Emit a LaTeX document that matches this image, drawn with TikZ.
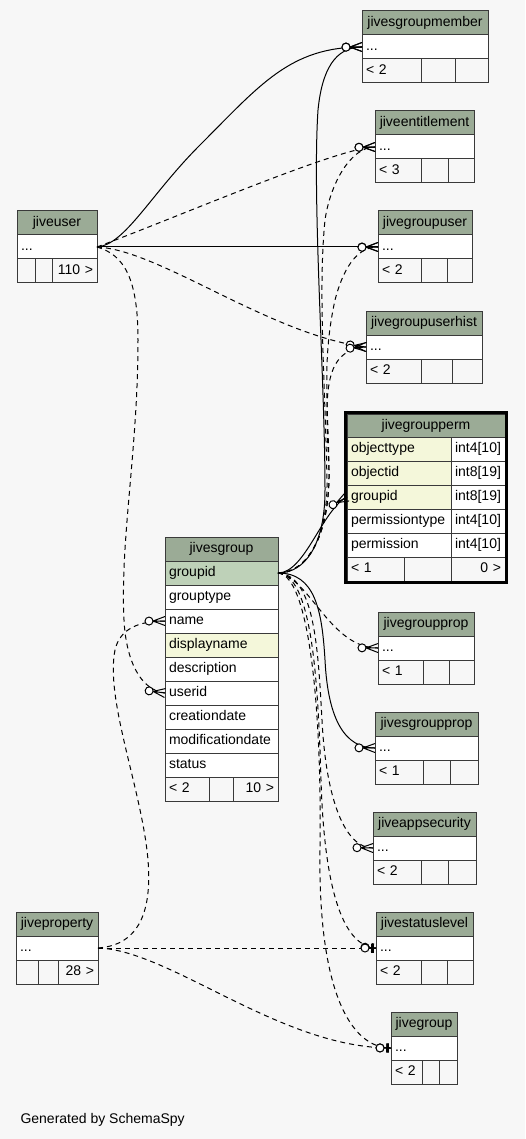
\documentclass[tikz,border=0pt]{standalone}
\usepackage{fontspec}
\setmainfont{Liberation Sans}
\usetikzlibrary{decorations.markings, fit}

\definecolor{bgcol}{HTML}{F7F7F7}
\definecolor{hdrgreen}{HTML}{9BAB96}
\definecolor{pkgreen}{HTML}{BED1B8}
\definecolor{idxyellow}{HTML}{F4F7DA}
\definecolor{bordercol}{HTML}{3A3A3A}

\begin{document}
\begin{tikzpicture}[
  x=1pt, y=-1pt,
  every node/.style={font=\fontsize{14}{16}\selectfont},
  tbl/.style={rectangle, draw=bordercol, line width=1pt, anchor=north west, minimum height=24pt,
    text height=10pt, text depth=3pt, inner xsep=4pt, inner ysep=0pt, outer sep=0pt},
  hdr/.style={tbl, fill=hdrgreen, align=center},
  col/.style={tbl, fill=white, align=left},
  pkcol/.style={col, fill=pkgreen},
  idxcol/.style={col, fill=idxyellow},
  foot/.style={tbl, align=left},
  footr/.style={tbl, align=right},
  fk/.style={draw=black, line width=1pt},
  implied/.style={fk, dash pattern=on 5pt off 4pt},
  many/.style={postaction={decorate, decoration={markings, mark=at position -0.5pt with {
      \draw[solid, line width=1pt] (-11.5pt,0pt) -- (0.5pt,4.5pt) (-11.5pt,0pt) -- (0.5pt,-4.5pt) (-11.5pt,0pt) -- (0.5pt,0pt);
      \draw[solid, line width=1pt, fill=white] (-15.5pt,0pt) circle (4pt);}}}},
  zeroone/.style={postaction={decorate, decoration={markings, mark=at position -0.5pt with {
      \draw[solid, line width=1pt] (-6.5pt,0pt) -- (0.5pt,0pt);
      \draw[solid, line width=2.5pt] (-3pt,-4.5pt) -- (-3pt,4.5pt);
      \draw[solid, line width=1pt, fill=white] (-10.5pt,0pt) circle (4pt);}}}},
]
\useasboundingbox (0,0) rectangle (525,1139);
\fill[bgcol] (0,0) rectangle (525,1139);

% jivesgroupmember
\node[hdr, text width=118pt] (gm-h) at (362,11) {jivesgroupmember};
\node[col, text width=118pt] (gm) at (362,35) {...};
\node[foot, text width=51pt] (gm-f1) at (362,59) {< 2};
\node[foot, text width=26pt] (gm-f2) at (421,59) {};
\node[foot, text width=25pt] (gm-f3) at (455,59) {};

% jiveentitlement
\node[hdr, text width=91pt] (ent-h) at (375,111) {jiveentitlement};
\node[col, text width=91pt] (ent) at (375,135) {...};
\node[foot, text width=38pt] (ent-f1) at (375,159) {< 3};
\node[foot, text width=19pt] (ent-f2) at (421,159) {};
\node[foot, text width=18pt] (ent-f3) at (448,159) {};

% jiveuser
\node[hdr, text width=72pt] (ju-h) at (17,211) {jiveuser};
\node[col, text width=72pt] (ju) at (17,235) {...};
\node[foot, text width=10pt] (ju-f1) at (17,259) {};
\node[foot, text width=9pt] (ju-f2) at (35,259) {};
\node[footr, text width=37pt] (ju-f3) at (52,259) {110 >};

% jivegroupuser
\node[hdr, text width=86pt] (gu-h) at (378,211) {jivegroupuser};
\node[col, text width=86pt] (gu) at (378,235) {...};
\node[foot, text width=35pt] (gu-f1) at (378,259) {< 2};
\node[foot, text width=18pt] (gu-f2) at (421,259) {};
\node[foot, text width=17pt] (gu-f3) at (447,259) {};

% jivegroupuserhist
\node[hdr, text width=108pt] (guh-h) at (366,311) {jivegroupuserhist};
\node[col, text width=108pt] (guh) at (366,335) {...};
\node[foot, text width=47pt] (guh-f1) at (366,359) {< 2};
\node[foot, text width=23pt] (guh-f2) at (421,359) {};
\node[foot, text width=22pt] (guh-f3) at (452,359) {};

% jivegroupperm
\node[hdr, text width=150pt, minimum height=23pt] (perm-h) at (347,414) {jivegroupperm};
\node[idxcol, text width=96pt] (perm-objecttype) at (347,437) {objecttype};
\node[col, text width=46pt] (perm-t1) at (451,437) {int4[10]};
\node[idxcol, text width=96pt] (perm-objectid) at (347,461) {objectid};
\node[col, text width=46pt] (perm-t2) at (451,461) {int8[19]};
\node[idxcol, text width=96pt] (perm-groupid) at (347,485) {groupid};
\node[col, text width=46pt] (perm-t3) at (451,485) {int8[19]};
\node[col, text width=96pt] (perm-permissiontype) at (347,509) {permissiontype};
\node[col, text width=46pt] (perm-t4) at (451,509) {int4[10]};
\node[col, text width=96pt] (perm-permission) at (347,533) {permission};
\node[col, text width=46pt] (perm-t5) at (451,533) {int4[10]};
\node[foot, text width=49pt] (perm-f1) at (347,557) {< 1};
\node[foot, text width=39pt] (perm-f2) at (404,557) {};
\node[footr, text width=46pt] (perm-f3) at (451,557) {0 >};
\node[draw=black, line width=3pt, fit=(perm-h)(perm-f3), inner sep=1.5pt] (perm-box) {};

% jivesgroup
\node[hdr, text width=105pt] (sg-h) at (165,537) {jivesgroup};
\node[pkcol, text width=105pt] (sg-groupid) at (165,561) {groupid};
\node[col, text width=105pt] (sg-grouptype) at (165,585) {grouptype};
\node[col, text width=105pt] (sg-name) at (165,609) {name};
\node[idxcol, text width=105pt] (sg-displayname) at (165,633) {displayname};
\node[col, text width=105pt] (sg-description) at (165,657) {description};
\node[col, text width=105pt] (sg-userid) at (165,681) {userid};
\node[col, text width=105pt] (sg-creationdate) at (165,705) {creationdate};
\node[col, text width=105pt] (sg-modificationdate) at (165,729) {modificationdate};
\node[col, text width=105pt] (sg-status) at (165,753) {status};
\node[foot, text width=36pt] (sg-f1) at (165,777) {< 2};
\node[foot, text width=16pt] (sg-f2) at (209,777) {};
\node[footr, text width=37pt] (sg-f3) at (233,777) {10 >};

% jivegroupprop
\node[hdr, text width=88pt] (gprop-h) at (378,612) {jivegroupprop};
\node[col, text width=88pt] (gprop) at (378,636) {...};
\node[foot, text width=37pt] (gprop-f1) at (378,660) {< 1};
\node[foot, text width=18pt] (gprop-f2) at (423,660) {};
\node[foot, text width=17pt] (gprop-f3) at (449,660) {};

% jivesgroupprop
\node[hdr, text width=95pt] (sgprop-h) at (375,712) {jivesgroupprop};
\node[col, text width=95pt] (sgprop) at (375,736) {...};
\node[foot, text width=40pt] (sgprop-f1) at (375,760) {< 1};
\node[foot, text width=19pt] (sgprop-f2) at (423,760) {};
\node[foot, text width=20pt] (sgprop-f3) at (450,760) {};

% jiveappsecurity
\node[hdr, text width=95pt] (aps-h) at (373,812) {jiveappsecurity};
\node[col, text width=95pt] (aps) at (373,836) {...};
\node[foot, text width=40pt] (aps-f1) at (373,860) {< 2};
\node[foot, text width=19pt] (aps-f2) at (421,860) {};
\node[foot, text width=20pt] (aps-f3) at (448,860) {};

% jivestatuslevel
\node[hdr, text width=89pt] (sl-h) at (376,912) {jivestatuslevel};
\node[col, text width=89pt] (sl) at (376,936) {...};
\node[foot, text width=37pt] (sl-f1) at (376,960) {< 2};
\node[foot, text width=18pt] (sl-f2) at (421,960) {};
\node[foot, text width=18pt] (sl-f3) at (447,960) {};

% jiveproperty
\node[hdr, text width=74pt] (jp-h) at (16,912) {jiveproperty};
\node[col, text width=74pt] (jp) at (16,936) {...};
\node[foot, text width=14pt] (jp-f1) at (16,960) {};
\node[foot, text width=12pt] (jp-f2) at (38,960) {};
\node[footr, text width=32pt] (jp-f3) at (58,960) {28 >};

% jivegroup
\node[hdr, text width=58pt] (jg-h) at (391,1012) {jivegroup};
\node[col, text width=58pt] (jg) at (391,1036) {...};
\node[foot, text width=23pt] (jg-f1) at (391,1060) {< 2};
\node[foot, text width=9pt] (jg-f2) at (422,1060) {};
\node[foot, text width=10pt] (jg-f3) at (439,1060) {};

% jiveuser relations
\draw[fk, many] (ju.east) .. controls (125,245) and (150,195) .. (200,145) .. controls (260,85) and (290,47) .. (gm.west);
\draw[implied, many] (ju.east) .. controls (180,216) and (340,147) .. (ent.west);
\draw[fk, many] (ju.east) -- (gu.west);
\draw[implied, many] (ju.east) .. controls (160,250) and (270,335) .. (guh.west);
\draw[implied, many] (ju.east) .. controls (125,255) and (138,280) .. (138,340) .. controls (138,450) and (120,540) .. (124,620) .. controls (126,660) and (140,690) .. (sg-userid.west);

% jivesgroup relations
\draw[fk, many] (sg-groupid.east) .. controls (305,573) and (325,545) .. (325,490) .. controls (325,380) and (312,200) .. (318,110) .. controls (322,70) and (335,47) .. (gm.west);
\draw[implied, many] (sg-groupid.east) .. controls (305,573) and (328,540) .. (327,480) .. controls (325,380) and (318,290) .. (325,220) .. controls (330,185) and (350,147) .. (ent.west);
\draw[implied, many] (sg-groupid.east) .. controls (305,573) and (330,540) .. (329,470) .. controls (328,400) and (322,360) .. (335,300) .. controls (345,262) and (360,247) .. (gu.west);
\draw[implied, many] (sg-groupid.east) .. controls (305,573) and (330,540) .. (329,470) .. controls (326,400) and (320,350) .. (guh.west);
\draw[fk, many] (sg-groupid.east) .. controls (305,573) and (322,510) .. (perm-groupid.west);
\draw[implied, many] (sg-groupid.east) .. controls (310,578) and (330,648) .. (gprop.west);
\draw[fk, many] (sg-groupid.east) .. controls (315,573) and (322,610) .. (325,660) .. controls (328,720) and (345,748) .. (sgprop.west);
\draw[implied, many] (sg-groupid.east) .. controls (315,575) and (318,650) .. (322,720) .. controls (326,800) and (345,848) .. (aps.west);
\draw[implied, zeroone] (sg-groupid.east) .. controls (312,575) and (318,680) .. (321,780) .. controls (324,880) and (340,946) .. (sl.west);
\draw[implied, zeroone] (sg-groupid.east) .. controls (308,575) and (322,700) .. (320,850) .. controls (318,990) and (350,1048) .. (jg.west);

% jiveproperty relations
\draw[implied, many] (jp.east) .. controls (140,945) and (152,910) .. (148,860) .. controls (142,790) and (105,700) .. (115,650) .. controls (120,628) and (140,621) .. (sg-name.west);
\draw[implied, zeroone] (jp.east) -- (sl.west);
\draw[implied, zeroone] (jp.east) .. controls (170,950) and (280,1048) .. (jg.west);

\node[anchor=base west] (credit) at (17,1123) {Generated by SchemaSpy};
\end{tikzpicture}
\end{document}
